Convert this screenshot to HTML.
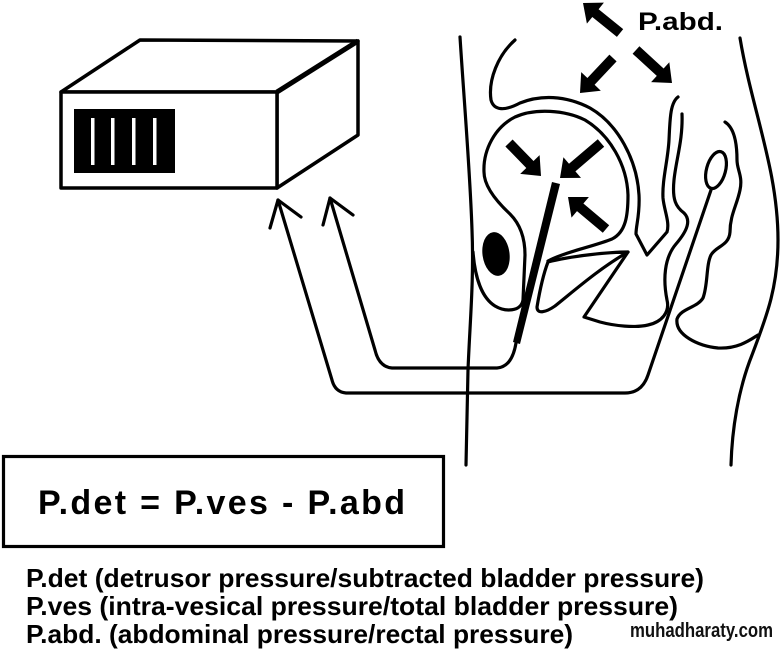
<!DOCTYPE html>
<html>
<head>
<meta charset="utf-8">
<style>
  html, body { margin: 0; padding: 0; background: #fff; }
  svg { display: block; }
  text { font-family: "Liberation Sans", Arial, sans-serif; font-weight: bold; fill: #000; }
</style>
</head>
<body>
<svg width="780" height="653" viewBox="0 0 780 653" xmlns="http://www.w3.org/2000/svg">
  <rect x="0" y="0" width="780" height="653" fill="#fff"/>

  <!-- Monitor box -->
  <g fill="none" stroke="#000" stroke-width="3.5" stroke-linejoin="round">
    <polygon points="61,92 140,40 358,41 277,92" fill="#fff"/>
    <polygon points="277,92 358,41 358,135 277,188" fill="#fff"/>
    <rect x="61" y="92" width="216" height="96" fill="#fff"/>
  </g>
  <line x1="277" y1="92" x2="358" y2="41" stroke="#000" stroke-width="5"/>
  <rect x="74" y="109" width="101" height="64" fill="#000"/>
  <g fill="#fff">
    <rect x="91" y="118" width="3.5" height="47"/>
    <rect x="111" y="118" width="3.5" height="47"/>
    <rect x="132" y="118" width="3.5" height="47"/>
    <rect x="153" y="118" width="3.5" height="47"/>
  </g>

  <g fill="none" stroke="#000" stroke-width="3.2" stroke-linecap="round" stroke-linejoin="round">
    <!-- Body front (left) line -->
    <path d="M460,37 C464,100 470,170 472,230 C474,280 470,320 468,370 L466,465"/>
    <!-- Body back (right) line -->
    <path d="M740,38 C752,110 778,170 778,240 C778,290 765,320 752,355 C738,390 732,430 731,465"/>

    <!-- Peritoneum / uterus outline + V + line A -->
    <path d="M515,40 C498,55 488,80 491,100 C494,111 505,111 520,103 C540,95 565,95 590,108 C618,124 637,160 639,195 C640,215 636,225 636,234 L647,255 L667,232 C670,222 664,210 663,198 C662,180 668,160 669,140 C670,120 670,103 678,97"/>

    <!-- Line B + Z shape -->
    <path d="M682,114 C683,140 676,160 674,180 C672,200 676,207 684,213 C691,220 688,230 676,244 C664,258 663,280 667,300 C670,312 662,322 648,325 C635,328 615,326 600,322 L584,317 L628,252"/>

    <!-- Bladder loop -->
    <path d="M548,261 C565,252 595,246 612,239 C626,232 628,215 628,195 C627,165 610,135 585,120 C565,110 535,108 515,117 C495,127 483,150 484,172 C484,185 495,200 510,214 C520,224 525,238 525,255 L523,300 C521,312 505,312 495,306 C482,298 475,278 473,252"/>

    <!-- Polygon below bladder -->
    <path d="M548,262 C543,275 539,295 537,307 C537,314 545,313 555,306 C575,290 600,268 628,252 C610,252 570,256 548,262 Z"/>

    <!-- Gluteal / anal wavy line -->
    <path d="M725,122 C733,127 737,140 737,160 C737,170 743,176 740,190 C737,205 730,215 730,232 C729,246 716,246 711,255 C706,265 708,285 703,298 C697,308 681,308 677,319 C675,335 698,346 718,348 C738,349 750,340 758,335"/>

    <!-- Rectal balloon -->
    <ellipse cx="716" cy="170" rx="9.5" ry="19" transform="rotate(15 716 170)"/>

    <!-- Outer (rectal) tube to monitor -->
    <path d="M711,190 L648,375 Q642,393 625,393 L346,393 Q335,392 332,380 L278,200"/>
    <polyline points="270,228 278,200 301,217"/>

    <!-- Inner (vesical) tube to monitor -->
    <path d="M516,343 Q512,367 497,368 L392,368 Q379,367 375,350 L330,198"/>
    <polyline points="323,225 330,198 353,215"/>
  </g>

  <!-- Catheter -->
  <polygon points="552,182 560,184 520,344 513,342" fill="#000"/>

  <!-- Pubic bone -->
  <ellipse cx="496" cy="254" rx="13.5" ry="22" fill="#000" transform="rotate(-8 496 254)"/>

  <!-- Bladder arrows -->
  <g fill="#000">
    <polygon points="512.6,139.5 533.5,161.0 539.6,155.1 541,176 520.2,173.9 526.3,168.0 505.4,146.5"/>
    <polygon points="597.8,139.2 569.0,163.8 563.4,157.3 560,178 581.0,177.9 575.4,171.4 604.2,146.8"/>
    <polygon points="609.2,225.2 583.4,203.5 588.9,197.0 568,197 571.5,217.6 577.0,211.1 602.8,232.8"/>
    <!-- Abdominal arrows -->
    <polygon points="623.2,29.1 598.6,9.2 603.9,2.6 583,3 586.9,23.6 592.3,17.0 616.9,36.9"/>
    <polygon points="609.4,54.6 587.4,78.0 581.2,72.1 580,93 600.8,90.7 594.6,84.8 616.6,61.4"/>
    <polygon points="639.4,46.3 663.6,68.5 669.3,62.3 672,83 651.1,82.1 656.8,75.9 632.6,53.7"/>
  </g>

  <text x="638" y="30" font-size="25" textLength="85" lengthAdjust="spacingAndGlyphs">P.abd.</text>

  <!-- Formula box -->
  <rect x="3.5" y="456.5" width="440" height="90" fill="none" stroke="#000" stroke-width="3.2"/>
  <text x="38" y="514" font-size="34" textLength="367" lengthAdjust="spacing">P.det = P.ves - P.abd</text>

  <!-- Legend -->
  <text x="26" y="587" font-size="26" textLength="678" lengthAdjust="spacingAndGlyphs">P.det (detrusor pressure/subtracted bladder pressure)</text>
  <text x="26" y="615" font-size="26" textLength="652" lengthAdjust="spacingAndGlyphs">P.ves (intra-vesical pressure/total bladder pressure)</text>
  <text x="26" y="643" font-size="26" textLength="547" lengthAdjust="spacingAndGlyphs">P.abd. (abdominal pressure/rectal pressure)</text>

  <text x="630" y="637" font-size="20" textLength="143" lengthAdjust="spacingAndGlyphs" style="fill:#111">muhadharaty.com</text>
</svg>
</body>
</html>
